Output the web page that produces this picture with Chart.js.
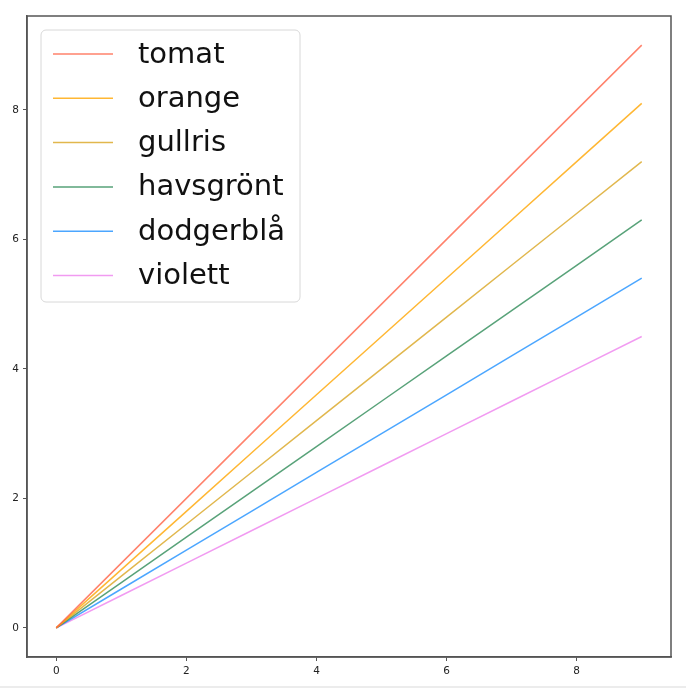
<!DOCTYPE html>
<html>
<head>
<meta charset="utf-8">
<script src="https://cdn.jsdelivr.net/npm/chart.js@4/dist/chart.umd.min.js"></script>
<style>
  html, body { margin: 0; padding: 0; background: #ececec; }
  #wrap { width: 686px; height: 686px; background: #fff; }
</style>
</head>
<body>
<div id="wrap"><canvas id="chart" width="686" height="686"></canvas></div>
<script>
const xValues = [0, 1, 2, 3, 4, 5, 6, 7, 8, 9];
const seriesNames = ['tomat', 'orange', 'gullris', 'havsgrönt', 'dodgerblå', 'violett'];
const seriesColors = ['#ff6347', '#ffa500', '#daa520', '#2e8b57', '#1e90ff', '#ee82ee'];
const tomat     = [0, 1.0, 2.0, 3.0, 4.0, 5.0, 6.0, 7.0, 8.0, 9.0];
const orange    = [0, 0.9, 1.8, 2.7, 3.6, 4.5, 5.4, 6.3, 7.2, 8.1];
const gullris   = [0, 0.8, 1.6, 2.4, 3.2, 4.0, 4.8, 5.6, 6.4, 7.2];
const havsgront = [0, 0.7, 1.4, 2.1, 2.8, 3.5, 4.2, 4.9, 5.6, 6.3];
const dodgerbla = [0, 0.6, 1.2, 1.8, 2.4, 3.0, 3.6, 4.2, 4.8, 5.4];
const violett   = [0, 0.5, 1.0, 1.5, 2.0, 2.5, 3.0, 3.5, 4.0, 4.5];
const xTicks = [0, 2, 4, 6, 8];
const yTicks = [0, 2, 4, 6, 8];

const allSeries = [tomat, orange, gullris, havsgront, dodgerbla, violett];

// matplotlib-like frame around the plot area
const framePlugin = {
    id: 'frame',
    afterDraw(chart) {
        const { ctx, chartArea: a } = chart;
        ctx.save();
        ctx.strokeStyle = '#555';
        ctx.lineWidth = 1.5;
        ctx.strokeRect(a.left, a.top, a.right - a.left, a.bottom - a.top);
        ctx.restore();
    }
};

// boxed legend in the upper left corner
const boxLegend = {
    id: 'boxLegend',
    afterDatasetsDraw(chart) {
        const { ctx, chartArea: a } = chart;
        const x = a.left + 14, y = a.top + 14, w = 259, h = 272;
        ctx.save();
        ctx.beginPath();
        ctx.roundRect(x, y, w, h, 5);
        ctx.fillStyle = 'rgba(255,255,255,0.85)';
        ctx.fill();
        ctx.strokeStyle = '#d8d8d8';
        ctx.lineWidth = 1;
        ctx.stroke();
        ctx.font = '29px "DejaVu Sans"';
        ctx.textBaseline = 'middle';
        chart.data.datasets.forEach((ds, i) => {
            const cy = y + 24 + i * 44.3;
            ctx.strokeStyle = ds.borderColor;
            ctx.lineWidth = 1.5;
            ctx.beginPath();
            ctx.moveTo(x + 12, cy);
            ctx.lineTo(x + 72, cy);
            ctx.stroke();
            ctx.fillStyle = '#111';
            ctx.fillText(ds.label, x + 97, cy + 1);
        });
        ctx.restore();
    }
};

const ctx = document.getElementById('chart').getContext('2d');
const chart = new Chart(ctx, {
    type: 'line',
    data: {
        datasets: seriesNames.map((name, i) => ({
            label: name,
            data: xValues.map((x, j) => ({ x: x, y: allSeries[i][j] })),
            borderColor: seriesColors[i] + 'cc',
            borderWidth: 1.5,
            pointRadius: 0,
            fill: false,
            tension: 0
        }))
    },
    options: {
        responsive: false,
        animation: false,
        layout: { padding: { left: 0, right: 15, top: 16, bottom: 0 } },
        plugins: {
            legend: { display: false },
            tooltip: { enabled: false }
        },
        scales: {
            x: {
                type: 'linear',
                min: -0.45,
                max: 9.45,
                afterBuildTicks: s => { s.ticks = xTicks.map(v => ({ value: v })); },
                afterFit: s => { s.height = 29; },
                grid: { drawOnChartArea: false, drawTicks: true, tickLength: 4, color: '#555' },
                border: { display: true, color: '#555', width: 1.5 },
                ticks: {
                    color: '#222',
                    padding: 4,
                    maxRotation: 0,
                    font: { family: 'DejaVu Sans', size: 10.5 }
                }
            },
            y: {
                type: 'linear',
                min: -0.45,
                max: 9.45,
                afterBuildTicks: s => { s.ticks = yTicks.map(v => ({ value: v })); },
                afterFit: s => { s.width = 27; },
                grid: { drawOnChartArea: false, drawTicks: true, tickLength: 4, color: '#555' },
                border: { display: true, color: '#555', width: 1.5 },
                ticks: {
                    color: '#222',
                    padding: 4,
                    font: { family: 'DejaVu Sans', size: 10.5 }
                }
            }
        }
    },
    plugins: [framePlugin, boxLegend]
});
</script>
</body>
</html>
